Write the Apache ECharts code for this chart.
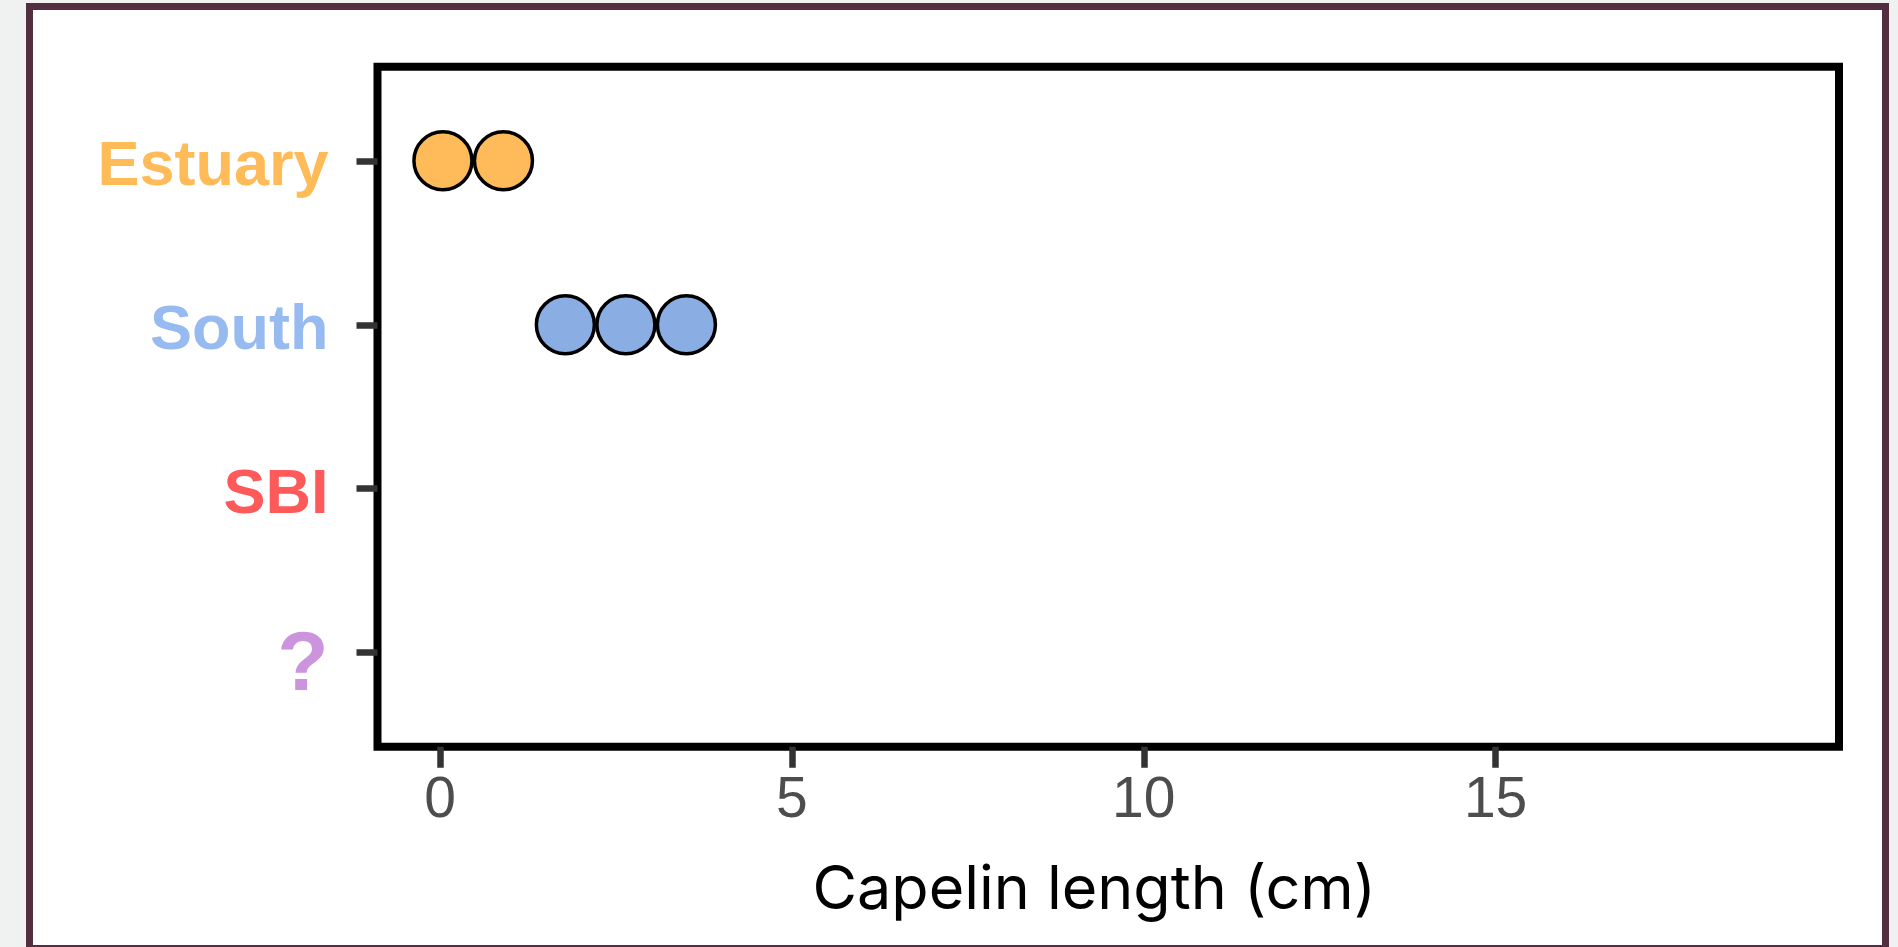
<!DOCTYPE html>
<html>
<head>
<meta charset="utf-8">
<script src="https://cdn.jsdelivr.net/npm/echarts@6/dist/echarts.min.js"></script>
<style>
  html, body { margin: 0; padding: 0; width: 1898px; height: 947px; overflow: hidden; background: #f0f2f1; }
  #frame { position: absolute; left: 26px; top: 3px; width: 1849px; height: 935px; border: 7px solid #532d40; background: #ffffff; }
  #chart { position: absolute; left: 0; top: 0; width: 1898px; height: 947px; }
</style>
</head>
<body>
<div id="frame"></div>
<div id="chart"></div>
<script>
// Data
const categories = ['Estuary', 'South', 'SBI', '?'];
const categoryColors = ['#ffbb57', '#97bbf0', '#ff5a5a', '#cc94dd'];
const dotColors = ['#ffbb5a', '#8aaee3', '#ff5a5a', '#cc94dd'];
const estuaryLengths = [0.04, 0.9];
const southLengths = [1.78, 2.64, 3.5];
const sbiLengths = [];
const unknownLengths = [];
const xTicks = [0, 5, 10, 15];
const xTitle = 'Capelin length (cm)';

const groups = [estuaryLengths, southLengths, sbiLengths, unknownLengths];

const chart = echarts.init(document.getElementById('chart'), null, { renderer: 'canvas' });

const rich = {};
categories.forEach((c, i) => {
  const isQ = c === '?';
  rich['c' + i] = {
    color: categoryColors[i],
    fontFamily: 'Liberation Sans',
    fontWeight: 'bold',
    fontSize: isQ ? 84 : 63,
    padding: isQ ? [28, 0, 0, 0] : [14, 0, 0, 0]
  };
});

const series = groups.map((vals, i) => ({
  type: 'scatter',
  name: categories[i],
  data: vals.map(v => [v, i]),
  symbol: 'circle',
  symbolSize: 58,
  itemStyle: { color: dotColors[i], borderColor: '#000000', borderWidth: 3.5, opacity: 1 },
  emphasis: { disabled: true },
  z: 3
}));

chart.setOption({
  animation: false,
  backgroundColor: 'transparent',
  grid: {
    left: 377.5, right: 59, top: 66.8, bottom: 200.3,
    show: true, borderColor: '#000000', borderWidth: 8, backgroundColor: '#ffffff',
    containLabel: false
  },
  xAxis: {
    type: 'value',
    min: -0.89, max: 19.88,
    axisLine: { show: false, onZero: false },
    splitLine: { show: false },
    axisTick: { show: true, customValues: xTicks, length: 21, lineStyle: { color: '#333333', width: 6.5 } },
    axisLabel: { customValues: xTicks, color: '#4d4d4d', fontFamily: 'Liberation Sans', fontSize: 57, margin: 26 },
    name: xTitle,
    nameLocation: 'middle',
    nameGap: 113,
    nameTextStyle: { color: '#000000', fontFamily: 'Inter', fontSize: 61, padding: [0, 28, 0, 0] }
  },
  yAxis: {
    type: 'value',
    inverse: true,
    min: -0.573, max: 3.573,
    axisLine: { show: false, onZero: false },
    splitLine: { show: false },
    axisTick: { show: true, customValues: [0, 1, 2, 3], length: 21, lineStyle: { color: '#333333', width: 6.5 } },
    axisLabel: {
      customValues: [0, 1, 2, 3],
      margin: 49,
      formatter: function (v) {
        const i = Math.round(Number(v));
        return '{c' + i + '|' + categories[i] + '}';
      },
      rich: rich
    }
  },
  series: series
});
</script>
</body>
</html>
